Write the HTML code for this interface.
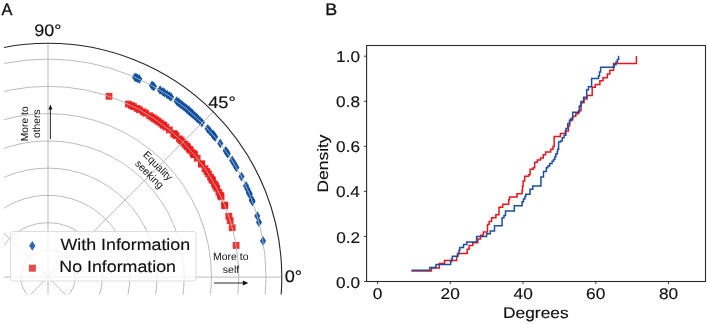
<!DOCTYPE html>
<html><head><meta charset="utf-8"><style>
html,body{margin:0;padding:0;background:#fff;}
svg{display:block;will-change:transform;}
text{font-family:"Liberation Sans",sans-serif;fill:#111;text-rendering:geometricPrecision;}
.dv{stroke:#111;stroke-width:0.15px;}
.ab{stroke:#111;stroke-width:0.3px;}
</style></head><body>
<svg width="708" height="324" viewBox="0 0 708 324">
<clipPath id="ca"><rect x="4" y="0" width="300" height="294.5"/></clipPath>
<g clip-path="url(#ca)">
<g fill="#f01a1a" fill-opacity="0.9"><rect x="232.7" y="242.0" width="6.8" height="6.8"/><rect x="228.8" y="224.3" width="6.8" height="6.8"/><rect x="226.8" y="217.3" width="6.8" height="6.8"/><rect x="225.4" y="212.8" width="6.8" height="6.8"/><rect x="221.5" y="202.4" width="6.8" height="6.8"/><rect x="221.2" y="201.6" width="6.8" height="6.8"/><rect x="217.7" y="193.5" width="6.8" height="6.8"/><rect x="217.0" y="191.9" width="6.8" height="6.8"/><rect x="215.5" y="188.9" width="6.8" height="6.8"/><rect x="213.4" y="184.8" width="6.8" height="6.8"/><rect x="212.2" y="182.5" width="6.8" height="6.8"/><rect x="211.0" y="180.4" width="6.8" height="6.8"/><rect x="209.1" y="177.0" width="6.8" height="6.8"/><rect x="208.3" y="175.8" width="6.8" height="6.8"/><rect x="207.1" y="173.8" width="6.8" height="6.8"/><rect x="205.1" y="170.5" width="6.8" height="6.8"/><rect x="203.5" y="168.1" width="6.8" height="6.8"/><rect x="201.6" y="165.3" width="6.8" height="6.8"/><rect x="198.4" y="160.8" width="6.8" height="6.8"/><rect x="198.0" y="160.3" width="6.8" height="6.8"/><rect x="193.8" y="154.8" width="6.8" height="6.8"/><rect x="190.9" y="151.2" width="6.8" height="6.8"/><rect x="190.6" y="150.9" width="6.8" height="6.8"/><rect x="190.3" y="150.5" width="6.8" height="6.8"/><rect x="189.3" y="149.4" width="6.8" height="6.8"/><rect x="187.0" y="146.8" width="6.8" height="6.8"/><rect x="186.0" y="145.7" width="6.8" height="6.8"/><rect x="184.1" y="143.6" width="6.8" height="6.8"/><rect x="183.2" y="142.6" width="6.8" height="6.8"/><rect x="181.5" y="140.9" width="6.8" height="6.8"/><rect x="179.5" y="138.8" width="6.8" height="6.8"/><rect x="177.7" y="137.0" width="6.8" height="6.8"/><rect x="176.1" y="135.5" width="6.8" height="6.8"/><rect x="172.7" y="132.3" width="6.8" height="6.8"/><rect x="171.2" y="130.9" width="6.8" height="6.8"/><rect x="170.3" y="130.2" width="6.8" height="6.8"/><rect x="166.0" y="126.5" width="6.8" height="6.8"/><rect x="162.5" y="123.7" width="6.8" height="6.8"/><rect x="160.3" y="122.0" width="6.8" height="6.8"/><rect x="159.4" y="121.3" width="6.8" height="6.8"/><rect x="157.1" y="119.6" width="6.8" height="6.8"/><rect x="154.8" y="118.0" width="6.8" height="6.8"/><rect x="152.7" y="116.5" width="6.8" height="6.8"/><rect x="150.9" y="115.3" width="6.8" height="6.8"/><rect x="148.6" y="113.8" width="6.8" height="6.8"/><rect x="146.3" y="112.3" width="6.8" height="6.8"/><rect x="142.2" y="109.8" width="6.8" height="6.8"/><rect x="139.8" y="108.4" width="6.8" height="6.8"/><rect x="136.1" y="106.3" width="6.8" height="6.8"/><rect x="133.6" y="105.0" width="6.8" height="6.8"/><rect x="130.1" y="103.2" width="6.8" height="6.8"/><rect x="128.1" y="102.1" width="6.8" height="6.8"/><rect x="125.0" y="100.7" width="6.8" height="6.8"/><rect x="105.6" y="92.9" width="6.8" height="6.8"/></g>
<g fill="#0f50a4" fill-opacity="0.95"><path transform="translate(263.0 240.9) rotate(0.0)" d="M0,-4.8 L3.1,0 L0,4.8 L-3.1,0Z"/><path transform="translate(259.0 222.2) rotate(0.0)" d="M0,-4.8 L3.1,0 L0,4.8 L-3.1,0Z"/><path transform="translate(257.3 216.0) rotate(0.0)" d="M0,-4.8 L3.1,0 L0,4.8 L-3.1,0Z"/><path transform="translate(252.5 201.5) rotate(0.0)" d="M0,-4.8 L3.1,0 L0,4.8 L-3.1,0Z"/><path transform="translate(252.2 200.6) rotate(0.0)" d="M0,-4.8 L3.1,0 L0,4.8 L-3.1,0Z"/><path transform="translate(251.8 199.7) rotate(0.0)" d="M0,-4.8 L3.1,0 L0,4.8 L-3.1,0Z"/><path transform="translate(249.7 194.3) rotate(0.0)" d="M0,-4.8 L3.1,0 L0,4.8 L-3.1,0Z"/><path transform="translate(249.3 193.3) rotate(0.0)" d="M0,-4.8 L3.1,0 L0,4.8 L-3.1,0Z"/><path transform="translate(248.9 192.5) rotate(0.0)" d="M0,-4.8 L3.1,0 L0,4.8 L-3.1,0Z"/><path transform="translate(247.4 189.0) rotate(0.0)" d="M0,-4.8 L3.1,0 L0,4.8 L-3.1,0Z"/><path transform="translate(246.0 185.8) rotate(0.0)" d="M0,-4.8 L3.1,0 L0,4.8 L-3.1,0Z"/><path transform="translate(241.5 176.6) rotate(0.0)" d="M0,-4.8 L3.1,0 L0,4.8 L-3.1,0Z"/><path transform="translate(236.4 167.5) rotate(0.0)" d="M0,-4.8 L3.1,0 L0,4.8 L-3.1,0Z"/><path transform="translate(234.5 164.1) rotate(0.0)" d="M0,-4.8 L3.1,0 L0,4.8 L-3.1,0Z"/><path transform="translate(232.2 160.4) rotate(0.0)" d="M0,-4.8 L3.1,0 L0,4.8 L-3.1,0Z"/><path transform="translate(227.8 153.8) rotate(0.0)" d="M0,-4.8 L3.1,0 L0,4.8 L-3.1,0Z"/><path transform="translate(226.7 152.1) rotate(0.0)" d="M0,-4.8 L3.1,0 L0,4.8 L-3.1,0Z"/><path transform="translate(225.7 150.8) rotate(0.0)" d="M0,-4.8 L3.1,0 L0,4.8 L-3.1,0Z"/><path transform="translate(220.3 143.4) rotate(0.0)" d="M0,-4.8 L3.1,0 L0,4.8 L-3.1,0Z"/><path transform="translate(215.1 137.1) rotate(0.0)" d="M0,-4.8 L3.1,0 L0,4.8 L-3.1,0Z"/><path transform="translate(214.2 136.0) rotate(0.0)" d="M0,-4.8 L3.1,0 L0,4.8 L-3.1,0Z"/><path transform="translate(213.3 134.9) rotate(0.0)" d="M0,-4.8 L3.1,0 L0,4.8 L-3.1,0Z"/><path transform="translate(212.6 134.2) rotate(0.0)" d="M0,-4.8 L3.1,0 L0,4.8 L-3.1,0Z"/><path transform="translate(209.7 130.9) rotate(0.0)" d="M0,-4.8 L3.1,0 L0,4.8 L-3.1,0Z"/><path transform="translate(207.7 128.7) rotate(0.0)" d="M0,-4.8 L3.1,0 L0,4.8 L-3.1,0Z"/><path transform="translate(201.9 122.6) rotate(0.0)" d="M0,-4.8 L3.1,0 L0,4.8 L-3.1,0Z"/><path transform="translate(199.9 120.7) rotate(0.0)" d="M0,-4.8 L3.1,0 L0,4.8 L-3.1,0Z"/><path transform="translate(197.8 118.7) rotate(0.0)" d="M0,-4.8 L3.1,0 L0,4.8 L-3.1,0Z"/><path transform="translate(196.7 117.6) rotate(0.0)" d="M0,-4.8 L3.1,0 L0,4.8 L-3.1,0Z"/><path transform="translate(195.1 116.2) rotate(0.0)" d="M0,-4.8 L3.1,0 L0,4.8 L-3.1,0Z"/><path transform="translate(193.3 114.6) rotate(0.0)" d="M0,-4.8 L3.1,0 L0,4.8 L-3.1,0Z"/><path transform="translate(192.2 113.6) rotate(0.0)" d="M0,-4.8 L3.1,0 L0,4.8 L-3.1,0Z"/><path transform="translate(191.1 112.6) rotate(0.0)" d="M0,-4.8 L3.1,0 L0,4.8 L-3.1,0Z"/><path transform="translate(190.4 112.0) rotate(0.0)" d="M0,-4.8 L3.1,0 L0,4.8 L-3.1,0Z"/><path transform="translate(189.3 111.1) rotate(0.0)" d="M0,-4.8 L3.1,0 L0,4.8 L-3.1,0Z"/><path transform="translate(188.9 110.7) rotate(0.0)" d="M0,-4.8 L3.1,0 L0,4.8 L-3.1,0Z"/><path transform="translate(188.2 110.1) rotate(0.0)" d="M0,-4.8 L3.1,0 L0,4.8 L-3.1,0Z"/><path transform="translate(186.8 108.9) rotate(0.0)" d="M0,-4.8 L3.1,0 L0,4.8 L-3.1,0Z"/><path transform="translate(185.3 107.7) rotate(0.0)" d="M0,-4.8 L3.1,0 L0,4.8 L-3.1,0Z"/><path transform="translate(183.8 106.5) rotate(0.0)" d="M0,-4.8 L3.1,0 L0,4.8 L-3.1,0Z"/><path transform="translate(182.3 105.3) rotate(0.0)" d="M0,-4.8 L3.1,0 L0,4.8 L-3.1,0Z"/><path transform="translate(180.7 104.1) rotate(0.0)" d="M0,-4.8 L3.1,0 L0,4.8 L-3.1,0Z"/><path transform="translate(179.2 103.0) rotate(0.0)" d="M0,-4.8 L3.1,0 L0,4.8 L-3.1,0Z"/><path transform="translate(178.1 102.1) rotate(0.0)" d="M0,-4.8 L3.1,0 L0,4.8 L-3.1,0Z"/><path transform="translate(176.6 101.0) rotate(0.0)" d="M0,-4.8 L3.1,0 L0,4.8 L-3.1,0Z"/><path transform="translate(171.0 97.0) rotate(0.0)" d="M0,-4.8 L3.1,0 L0,4.8 L-3.1,0Z"/><path transform="translate(169.5 96.0) rotate(0.0)" d="M0,-4.8 L3.1,0 L0,4.8 L-3.1,0Z"/><path transform="translate(167.2 94.5) rotate(0.0)" d="M0,-4.8 L3.1,0 L0,4.8 L-3.1,0Z"/><path transform="translate(164.5 92.8) rotate(0.0)" d="M0,-4.8 L3.1,0 L0,4.8 L-3.1,0Z"/><path transform="translate(162.9 91.8) rotate(0.0)" d="M0,-4.8 L3.1,0 L0,4.8 L-3.1,0Z"/><path transform="translate(160.1 90.1) rotate(0.0)" d="M0,-4.8 L3.1,0 L0,4.8 L-3.1,0Z"/><path transform="translate(153.9 86.5) rotate(0.0)" d="M0,-4.8 L3.1,0 L0,4.8 L-3.1,0Z"/><path transform="translate(153.0 86.0) rotate(0.0)" d="M0,-4.8 L3.1,0 L0,4.8 L-3.1,0Z"/><path transform="translate(152.0 85.4) rotate(0.0)" d="M0,-4.8 L3.1,0 L0,4.8 L-3.1,0Z"/><path transform="translate(139.3 79.1) rotate(0.0)" d="M0,-4.8 L3.1,0 L0,4.8 L-3.1,0Z"/><path transform="translate(137.5 78.3) rotate(0.0)" d="M0,-4.8 L3.1,0 L0,4.8 L-3.1,0Z"/><path transform="translate(136.2 77.7) rotate(0.0)" d="M0,-4.8 L3.1,0 L0,4.8 L-3.1,0Z"/><path transform="translate(135.0 77.2) rotate(0.0)" d="M0,-4.8 L3.1,0 L0,4.8 L-3.1,0Z"/></g>
<g fill="none" stroke="#b3b3b3" stroke-width="0.9"><circle cx="48.0" cy="277.1" r="27.2"/><circle cx="48.0" cy="277.1" r="54.5"/><circle cx="48.0" cy="277.1" r="81.8"/><circle cx="48.0" cy="277.1" r="109.0"/><circle cx="48.0" cy="277.1" r="136.2"/><circle cx="48.0" cy="277.1" r="163.5"/><circle cx="48.0" cy="277.1" r="190.8"/><circle cx="48.0" cy="277.1" r="218.0"/><line x1="48.0" y1="277.1" x2="281.8" y2="277.1"/><line x1="48.0" y1="277.1" x2="213.3" y2="111.7"/><line x1="48.0" y1="277.1" x2="48.0" y2="43.2"/><line x1="48.0" y1="277.1" x2="-117.3" y2="111.7"/><line x1="48.0" y1="277.1" x2="-185.8" y2="277.0"/><line x1="48.0" y1="277.1" x2="-117.3" y2="442.4"/><line x1="48.0" y1="277.1" x2="48.0" y2="510.9"/><line x1="48.0" y1="277.1" x2="213.3" y2="442.4"/></g>
<circle cx="48.0" cy="277.1" r="233.8" fill="none" stroke="#262626" stroke-width="1.1"/>
</g>
<rect x="10.5" y="231.5" width="185.5" height="49.5" rx="2.5" fill="#fff" fill-opacity="0.8" stroke="#d8d8d8" stroke-width="0.9"/>
<path transform="translate(32.3 245.8)" d="M0,-4.9 L3.2,0 L0,4.9 L-3.2,0Z" fill="#3468ad"/>
<rect x="28.9" y="264.7" width="7" height="7" fill="#eb4a4a"/>
<text transform="translate(60.52 249.90) scale(1.1061 1)" font-size="16.10" class="dv">With Information</text>
<text transform="translate(59.28 272.40) scale(1.1056 1)" font-size="16.10" class="dv">No Information</text>
<text transform="translate(1.50 15.10) scale(0.9858 1)" font-size="16.60" class="ab">A</text>
<text transform="translate(34.30 35.50) scale(1.0843 1)" font-size="16.60" class="dv">90°</text>
<text transform="translate(208.13 107.80) scale(1.1037 1)" font-size="16.60" class="dv">45°</text>
<text transform="translate(284.67 281.80) scale(1.0919 1)" font-size="16.70" class="dv">0°</text>
<text transform="translate(27.90 123.60) rotate(-90) translate(-17.66 0)" font-size="10.30">More to</text>
<text transform="translate(40.10 123.75) rotate(-90) translate(-14.32 0)" font-size="10.30">others</text>
<line x1="50.4" y1="139" x2="50.4" y2="107" stroke="#111" stroke-width="0.9"/><path d="M50.4,104.6 L48.4,109.4 L52.4,109.4Z" fill="#111"/>
<text transform="translate(155.60 168.50) rotate(45) translate(-18.69 0)" font-size="10.30">Equality</text>
<text transform="translate(146.80 176.70) rotate(45) translate(-17.56 0)" font-size="10.30">seeking</text>
<text transform="translate(213.06 260.20) scale(1.0056 1)" font-size="10.40">More to</text>
<text transform="translate(222.78 273.00) scale(1.0181 1)" font-size="10.40">self</text>
<line x1="214" y1="283" x2="245" y2="283" stroke="#111" stroke-width="0.9"/><path d="M248.3,283 L242.8,280.6 L242.8,285.4Z" fill="#111"/>
<text transform="translate(325.27 14.70) scale(1.0798 1)" font-size="16.60" class="ab">B</text>
<polyline fill="none" stroke="#e8161c" stroke-width="1.5" points="411.5,270.9 431.4,270.9 431.4,268.0 439.3,268.0 439.3,263.5 444.5,263.5 444.5,260.4 456.6,260.4 456.6,256.5 457.5,256.5 457.5,253.4 467.2,253.4 467.2,249.3 469.1,249.3 469.1,245.6 472.8,245.6 472.8,242.8 477.8,242.8 477.8,238.9 480.6,238.9 480.6,235.2 483.3,235.2 483.3,231.9 487.5,231.9 487.5,224.6 489.1,224.6 489.1,221.5 491.6,221.5 491.6,217.8 495.9,217.8 495.9,214.8 499.0,214.8 499.0,207.3 502.7,207.3 502.7,204.3 508.7,204.3 508.7,199.8 509.5,199.8 509.5,197.0 517.0,197.0 517.0,193.8 522.1,193.8 522.1,190.6 522.5,190.6 522.5,186.3 523.1,186.3 523.1,180.9 524.7,180.9 524.7,176.2 528.5,176.2 528.5,174.7 530.1,174.7 530.1,169.3 533.2,169.3 533.2,167.7 534.7,167.7 534.7,162.2 537.3,162.2 537.3,159.9 540.5,159.9 540.5,158.1 543.3,158.1 543.3,154.8 545.6,154.8 545.6,152.0 550.7,152.0 550.7,149.3 553.0,149.3 553.0,146.5 554.2,146.5 554.2,136.5 560.4,136.5 560.4,133.5 565.3,133.5 565.3,131.0 568.4,131.0 568.4,126.0 569.6,126.0 569.6,119.9 572.7,119.9 572.7,116.2 575.8,116.2 575.8,113.7 578.6,113.7 578.6,110.8 581.0,110.8 581.0,102.8 584.0,102.8 584.0,99.1 587.0,99.1 587.0,95.4 592.2,95.4 592.2,87.3 595.3,87.3 595.3,84.5 599.9,84.5 599.9,80.8 603.0,80.8 603.0,77.7 607.3,77.7 607.3,74.0 609.8,74.0 609.8,70.3 613.5,70.3 613.5,63.5 636.4,63.5 636.4,56.1"/>
<polyline fill="none" stroke="#1a4f9f" stroke-width="1.5" points="411.5,270.2 429.8,270.2 429.8,267.4 436.0,267.4 436.0,264.5 450.6,264.5 450.6,261.5 451.5,261.5 451.5,259.0 452.4,259.0 452.4,256.2 458.0,256.2 458.0,253.5 459.0,253.5 459.0,250.2 459.8,250.2 459.8,247.4 463.5,247.4 463.5,244.6 466.8,244.6 466.8,241.9 476.6,241.9 476.6,236.6 486.6,236.6 486.6,233.8 490.3,233.8 490.3,231.0 494.5,231.0 494.5,225.8 502.1,225.8 502.1,217.8 504.0,217.8 504.0,215.4 505.5,215.4 505.5,210.9 514.3,210.9 514.3,205.8 522.1,205.8 522.1,201.7 523.5,201.7 523.5,198.9 524.9,198.9 524.9,196.6 525.8,196.6 525.8,194.3 530.0,194.3 530.0,189.2 532.8,189.2 532.8,186.0 540.9,186.0 540.9,177.0 543.5,177.0 543.5,171.6 546.3,171.6 546.3,167.7 547.8,167.7 547.8,165.9 549.8,165.9 549.8,163.6 552.1,163.6 552.1,161.3 553.5,161.3 553.5,159.4 554.9,159.4 554.9,156.7 555.8,156.7 555.8,153.9 557.2,153.9 557.2,151.6 557.7,151.6 557.7,149.3 558.6,149.3 558.6,141.9 560.4,141.9 560.4,140.9 562.2,140.9 562.2,137.8 564.1,137.8 564.1,135.3 565.9,135.3 565.9,128.5 567.8,128.5 567.8,123.6 569.6,123.6 569.6,121.1 570.9,121.1 570.9,118.6 572.7,118.6 572.7,112.3 579.3,112.3 579.3,105.9 581.0,105.9 581.0,101.5 583.6,101.5 583.6,97.2 586.7,97.2 586.7,89.8 588.5,89.8 588.5,86.7 591.6,86.7 591.6,78.5 598.5,78.5 598.5,75.9 599.5,75.9 599.5,72.0 600.6,72.0 600.6,67.2 614.1,67.2 614.1,64.7 616.0,64.7 616.0,62.0 617.4,62.0 617.4,59.6 618.6,59.6 618.6,56.4 619.1,56.4"/>
<rect x="366.6" y="45.5" width="338.9" height="236.0" fill="none" stroke="#2a2a2a" stroke-width="1.1"/>
<text transform="translate(336.07 287.60) scale(1.1100 1)" font-size="15.50" class="dv">0.0</text>
<text transform="translate(336.25 242.54) scale(1.1100 1)" font-size="15.50" class="dv">0.2</text>
<text transform="translate(335.90 197.48) scale(1.1100 1)" font-size="15.50" class="dv">0.4</text>
<text transform="translate(336.07 152.42) scale(1.1100 1)" font-size="15.50" class="dv">0.6</text>
<text transform="translate(336.07 107.36) scale(1.1100 1)" font-size="15.50" class="dv">0.8</text>
<text transform="translate(336.07 62.30) scale(1.1100 1)" font-size="15.50" class="dv">1.0</text>
<text transform="translate(372.66 298.80) scale(1.1150 1)" font-size="15.50" class="dv">0</text>
<text transform="translate(440.58 298.80) scale(1.1150 1)" font-size="15.50" class="dv">20</text>
<text transform="translate(513.60 298.80) scale(1.1150 1)" font-size="15.50" class="dv">40</text>
<text transform="translate(586.10 298.80) scale(1.1150 1)" font-size="15.50" class="dv">60</text>
<text transform="translate(658.95 298.80) scale(1.1150 1)" font-size="15.50" class="dv">80</text>
<g stroke="#2a2a2a" stroke-width="0.9"><line x1="363.9" y1="281.5" x2="366.6" y2="281.5"/><line x1="363.9" y1="236.4" x2="366.6" y2="236.4"/><line x1="363.9" y1="191.4" x2="366.6" y2="191.4"/><line x1="363.9" y1="146.3" x2="366.6" y2="146.3"/><line x1="363.9" y1="101.3" x2="366.6" y2="101.3"/><line x1="363.9" y1="56.2" x2="366.6" y2="56.2"/><line x1="377.5" y1="281.5" x2="377.5" y2="284.1"/><line x1="450.3" y1="281.5" x2="450.3" y2="284.1"/><line x1="523.0" y1="281.5" x2="523.0" y2="284.1"/><line x1="595.8" y1="281.5" x2="595.8" y2="284.1"/><line x1="668.5" y1="281.5" x2="668.5" y2="284.1"/></g>
<text transform="translate(503.01 317.60) scale(1.1284 1)" font-size="15.40" class="dv">Degrees</text>
<text class="dv" transform="translate(328.4 162.8) rotate(-90) translate(-29.69 0) scale(1.1533 1)" font-size="15.10">Density</text>
</svg>
</body></html>
